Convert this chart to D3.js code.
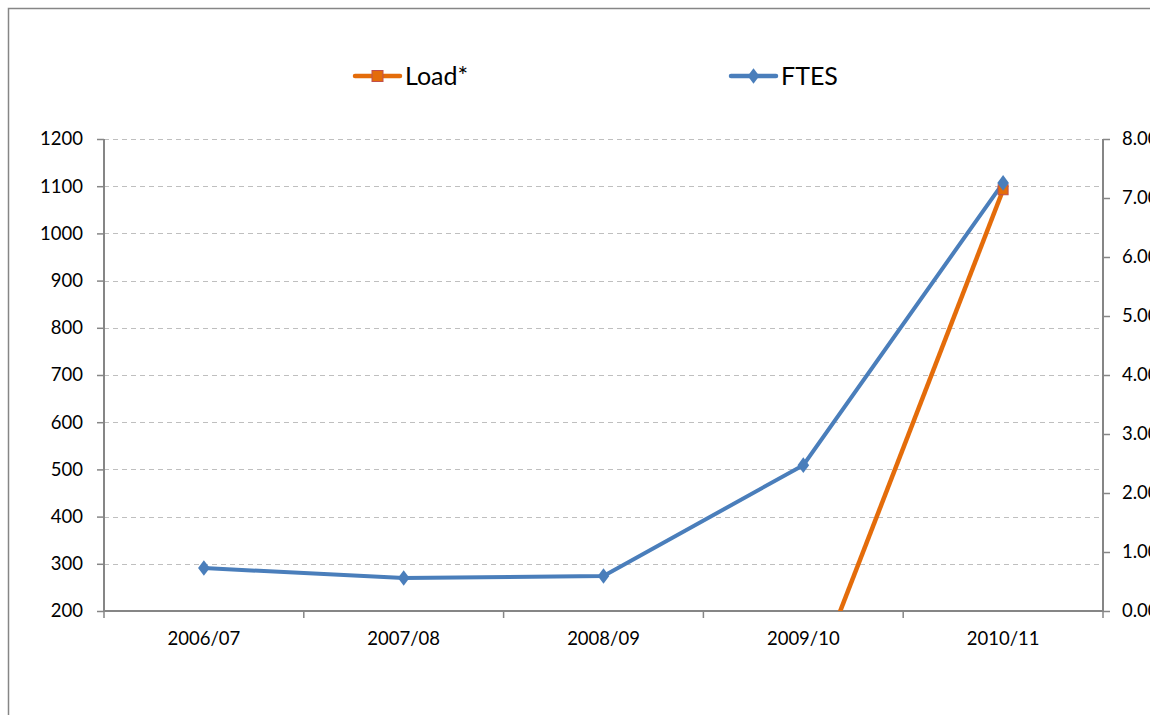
<!DOCTYPE html>
<html>
<head>
<meta charset="utf-8">
<script src="https://cdn.jsdelivr.net/npm/d3@7"></script>
<style>
  body { margin: 0; background: #fff; }
  text { font-family: Lato, "Open Sans", sans-serif; fill: #000; }
</style>
</head>
<body>
<div id="chart"></div>
<script>
// Chart data
const years = ["2006/07", "2007/08", "2008/09", "2009/10", "2010/11"];
const ftes = [291, 270, 274, 509, 1107];
const load = [null, null, null, -1.62, 7.14]; // earlier values fall below the axis
const leftTicks = [200, 300, 400, 500, 600, 700, 800, 900, 1000, 1100, 1200];
const rightTicks = [0, 1, 2, 3, 4, 5, 6, 7, 8];

const width = 1150, height = 715;
const margin = { top: 139, right: 47, bottom: 104, left: 104 };

const svg = d3
  .select("#chart")
  .append("svg")
  .attr("width", width)
  .attr("height", height);

// Outer chart border
svg.append("rect")
  .attr("x", 8.5).attr("y", 8.5)
  .attr("width", width + 20).attr("height", height + 20)
  .attr("fill", "none")
  .attr("stroke", "#868686")
  .attr("stroke-width", 1.5);

const x = d3.scaleBand()
  .domain(years)
  .range([margin.left, width - margin.right]);

const yLeft = d3.scaleLinear()
  .domain([200, 1200])
  .range([height - margin.bottom, margin.top]);

const yRight = d3.scaleLinear()
  .domain([0, 8])
  .range([height - margin.bottom, margin.top]);

const cx = (d) => x(d) + x.bandwidth() / 2;

// Gridlines
svg.append("g")
  .selectAll("line")
  .data(leftTicks.slice(1))
  .join("line")
  .attr("x1", margin.left)
  .attr("x2", width - margin.right)
  .attr("y1", (d) => Math.round(yLeft(d)) + 0.5)
  .attr("y2", (d) => Math.round(yLeft(d)) + 0.5)
  .attr("stroke", "#bfbfbf")
  .attr("stroke-dasharray", "5,4");

// Axes
const axisColor = "#868686";
const gLeft = svg.append("g")
  .attr("transform", `translate(${margin.left},0)`)
  .call(d3.axisLeft(yLeft).tickValues(leftTicks).tickSize(7).tickPadding(14)
    .tickFormat(d3.format("d")));

const gRight = svg.append("g")
  .attr("transform", `translate(${width - margin.right},0)`)
  .call(d3.axisRight(yRight).tickValues(rightTicks).tickSize(7).tickPadding(12)
    .tickFormat(d3.format(".2f")));

const gBottom = svg.append("g")
  .attr("transform", `translate(0,${height - margin.bottom})`)
  .call(d3.axisBottom(x).tickSize(0).tickPadding(21));

// Category boundary ticks
gBottom.selectAll(".bound")
  .data(d3.range(years.length + 1))
  .join("line")
  .attr("class", "bound")
  .attr("x1", (i) => margin.left + i * x.step())
  .attr("x2", (i) => margin.left + i * x.step())
  .attr("y1", 0)
  .attr("y2", 7)
  .attr("stroke", axisColor)
  .attr("stroke-width", 1.5);

[gLeft, gRight, gBottom].forEach((g) => {
  g.select(".domain").attr("stroke", axisColor).attr("stroke-width", 2);
  g.selectAll(".tick line").attr("stroke", axisColor).attr("stroke-width", 1.5);
  g.selectAll(".tick text").style("font-size", "18.5px").attr("fill", "#000");
});
gBottom.select(".domain").attr("d", `M${margin.left},0H${width - margin.right}`);
gLeft.select(".domain").attr("d", `M0,${margin.top}V${height - margin.bottom}`);
gRight.select(".domain").attr("d", `M0,${margin.top}V${height - margin.bottom}`);

// Clip to plot area
svg.append("clipPath").attr("id", "plot")
  .append("rect")
  .attr("x", margin.left)
  .attr("y", margin.top - 20)
  .attr("width", width - margin.left - margin.right)
  .attr("height", height - margin.top - margin.bottom + 20);

const plot = svg.append("g").attr("clip-path", "url(#plot)");

const orange = "#e46c0a";
const blue = "#4a7ebb";

// Load* line (right axis)
plot.append("path")
  .datum(years.map((d, i) => [d, load[i]]))
  .attr("fill", "none")
  .attr("stroke", orange)
  .attr("stroke-width", 4.5)
  .attr("d", d3.line()
    .defined((d) => d[1] !== null)
    .x((d) => cx(d[0]))
    .y((d) => yRight(d[1])));

// FTES line (left axis)
plot.append("path")
  .datum(years.map((d, i) => [d, ftes[i]]))
  .attr("fill", "none")
  .attr("stroke", blue)
  .attr("stroke-width", 4)
  .attr("d", d3.line().x((d) => cx(d[0])).y((d) => yLeft(d[1])));

// Load* markers
plot.selectAll(".load-mark")
  .data(years.map((d, i) => [d, load[i]]).filter((d) => d[1] !== null && d[1] >= 0))
  .join("rect")
  .attr("class", "load-mark")
  .attr("x", (d) => cx(d[0]) - 5)
  .attr("y", (d) => yRight(d[1]) - 5)
  .attr("width", 10)
  .attr("height", 10)
  .attr("fill", orange)
  .attr("stroke", "#c0504d")
  .attr("stroke-width", 1);

// FTES markers
const diamond = d3.symbol().type(d3.symbolDiamond).size(70);
plot.selectAll(".ftes-mark")
  .data(years.map((d, i) => [d, ftes[i]]))
  .join("path")
  .attr("class", "ftes-mark")
  .attr("transform", (d) => `translate(${cx(d[0])},${yLeft(d[1])}) scale(1.3,1)`)
  .attr("d", diamond)
  .attr("fill", blue);

// Legend
const legend = svg.append("g");
const legendItems = [
  { name: "Load*", color: orange, x: 355 },
  { name: "FTES", color: blue, x: 731 },
];
legendItems.forEach((it, i) => {
  const lg = legend.append("g").attr("transform", `translate(${it.x},76)`);
  lg.append("line")
    .attr("x1", 0).attr("x2", 45)
    .attr("stroke", it.color)
    .attr("stroke-width", 4.5)
    .attr("stroke-linecap", "round");
  if (i === 0) {
    lg.append("rect")
      .attr("x", 17).attr("y", -5.5)
      .attr("width", 11).attr("height", 11)
      .attr("fill", orange).attr("stroke", "#c0504d");
  } else {
    lg.append("path")
      .attr("transform", "translate(22.5,0) scale(1.3,1)")
      .attr("d", diamond)
      .attr("fill", blue);
  }
  lg.append("text")
    .attr("x", 50)
    .attr("y", 9)
    .style("font-size", "25px")
    .text(it.name);
});
</script>
</body>
</html>
